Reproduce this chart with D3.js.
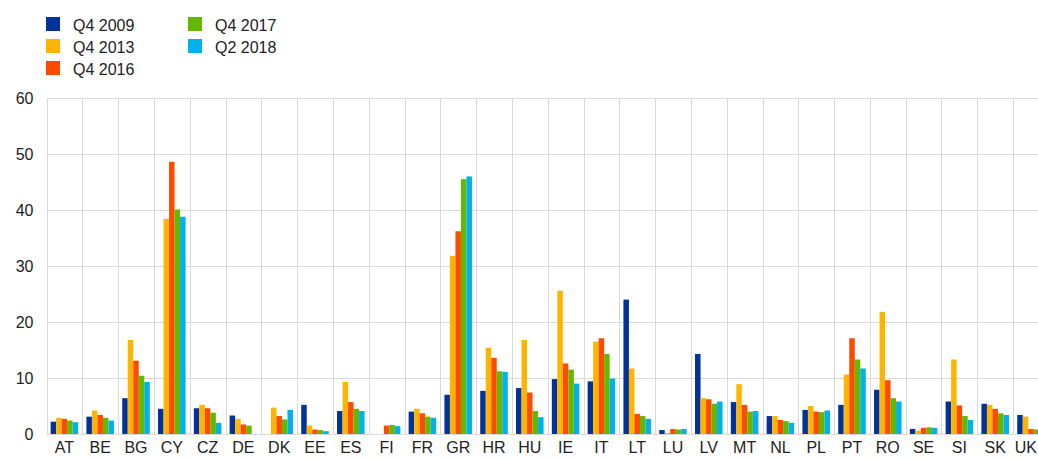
<!DOCTYPE html>
<html>
<head>
<meta charset="utf-8">
<script src="https://cdn.jsdelivr.net/npm/d3@7"></script>
<style>
  body { margin: 0; background: #fff; }
  svg { display: block; font-family: "Liberation Sans", Arial, sans-serif; }
</style>
</head>
<body>
<div id="container"></div>
<script>
// countries on the x axis
const countries = ["AT","BE","BG","CY","CZ","DE","DK","EE","ES","FI","FR","GR","HR","HU",
                   "IE","IT","LT","LU","LV","MT","NL","PL","PT","RO","SE","SI","SK","UK"];
const seriesNames = ["Q4 2009","Q4 2013","Q4 2016","Q4 2017","Q2 2018"];
const colors = ["#003299","#ffb400","#ff4b00","#65b800","#00b1ea"];
const yTicks = [0,10,20,30,40,50,60];

// values per series, same order as countries (null = no bar)
const q4_2009 = [2.2,3.1,6.4,4.5,4.6,3.3,null,5.2,4.1,null,4.0,7.0,7.7,8.2,
                 9.8,9.4,24.0,0.7,14.3,5.7,3.2,4.3,5.2,7.9,0.9,5.8,5.4,3.4];
const q4_2013 = [2.9,4.2,16.8,38.4,5.2,2.7,4.7,1.5,9.3,null,4.5,31.8,15.4,16.8,
                 25.6,16.5,11.7,0.2,6.4,8.9,3.2,5.0,10.6,21.8,0.6,13.3,5.2,3.1];
const q4_2016 = [2.7,3.4,13.1,48.6,4.6,1.7,3.2,0.8,5.7,1.5,3.7,36.2,13.6,7.4,
                 12.6,17.1,3.6,0.9,6.2,5.2,2.5,4.0,17.1,9.6,1.1,5.1,4.5,0.9];
const q4_2017 = [2.4,2.9,10.4,40.1,3.8,1.5,2.6,0.7,4.5,1.6,3.1,45.5,11.2,4.1,
                 11.5,14.3,3.2,0.8,5.4,4.0,2.3,3.9,13.3,6.4,1.2,3.2,3.7,0.8];
const q2_2018 = [2.1,2.4,9.3,38.8,2.0,null,4.3,0.5,4.1,1.4,2.9,46.0,11.1,3.0,
                 9.0,9.9,2.7,0.9,5.8,4.1,2.0,4.2,11.7,5.8,1.1,2.5,3.4,0.7];
const allSeries = [q4_2009,q4_2013,q4_2016,q4_2017,q2_2018];

const w = 1038, h = 458;
const plotLeft = 46.5, bandW = 35.8;
const plotTop = 98, plotBottom = 434;
const fontSize = 16;

const x = d3.scaleBand()
  .domain(countries)
  .range([plotLeft, plotLeft + bandW*countries.length])
  .paddingInner(0).paddingOuter(0);

const xInner = d3.scaleBand()
  .domain(d3.range(seriesNames.length))
  .range([0, x.bandwidth()])
  .paddingOuter(0.75).paddingInner(0);

const y = d3.scaleLinear().domain([0,60]).range([plotBottom, plotTop]);

const svg = d3.select("#container").append("svg")
  .attr("width", w).attr("height", h);

// horizontal grid
svg.append("g").selectAll("line").data(yTicks).enter().append("line")
  .attr("x1", plotLeft).attr("x2", w)
  .attr("y1", d => Math.round(y(d)) + 0.5).attr("y2", d => Math.round(y(d)) + 0.5)
  .attr("stroke", "#d9d9d9").attr("stroke-width", 1);

// vertical grid at band boundaries
svg.append("g").selectAll("line").data(countries.concat(["_end"])).enter().append("line")
  .attr("x1", (d,i) => Math.round(plotLeft + i*bandW) + 0.5)
  .attr("x2", (d,i) => Math.round(plotLeft + i*bandW) + 0.5)
  .attr("y1", plotTop).attr("y2", plotBottom)
  .attr("stroke", "#d9d9d9").attr("stroke-width", 1);

// bars
const groups = svg.append("g").selectAll("g").data(countries).enter().append("g")
  .attr("transform", d => "translate(" + x(d) + ",0)");

groups.selectAll("rect")
  .data((c,i) => allSeries.map((s,k) => ({k: k, v: s[i]})).filter(d => d.v !== null))
  .enter().append("rect")
  .attr("x", d => xInner(d.k))
  .attr("width", xInner.bandwidth())
  .attr("y", d => y(d.v))
  .attr("height", d => y(0) - y(d.v))
  .attr("fill", d => colors[d.k]);

// y axis
const yAxis = d3.axisLeft(y).tickValues(yTicks).tickSize(0).tickPadding(13);
const ya = svg.append("g").attr("transform", "translate(" + plotLeft + ",0)").call(yAxis);
ya.select(".domain").remove();
ya.selectAll("text").attr("font-size", fontSize).attr("fill", "#222")
  .attr("font-family", "Liberation Sans, Arial, sans-serif");

// x axis
const xAxis = d3.axisBottom(x).tickSize(0).tickPadding(8);
const xa = svg.append("g").attr("transform", "translate(0," + plotBottom + ")").call(xAxis);
xa.select(".domain").remove();
xa.selectAll("text").attr("font-size", fontSize).attr("fill", "#222")
  .attr("font-family", "Liberation Sans, Arial, sans-serif");
// last label would run off the edge: pin it to the right side
xa.selectAll(".tick").filter(d => d === "UK").select("text")
  .attr("text-anchor", "end")
  .attr("x", w - 1 - x("UK") - x.bandwidth()/2);

// legend
const legendPos = [[46,17],[46,39],[46,61],[188,17],[188,39]];
const lg = svg.append("g").selectAll("g").data(seriesNames).enter().append("g")
  .attr("transform", (d,i) => "translate(" + legendPos[i][0] + "," + legendPos[i][1] + ")");
lg.append("rect").attr("width", 14).attr("height", 14).attr("fill", (d,i) => colors[i]);
lg.append("text").attr("x", 27).attr("y", 13.5).attr("font-size", fontSize).attr("fill", "#222")
  .text(d => d);
</script>
</body>
</html>
